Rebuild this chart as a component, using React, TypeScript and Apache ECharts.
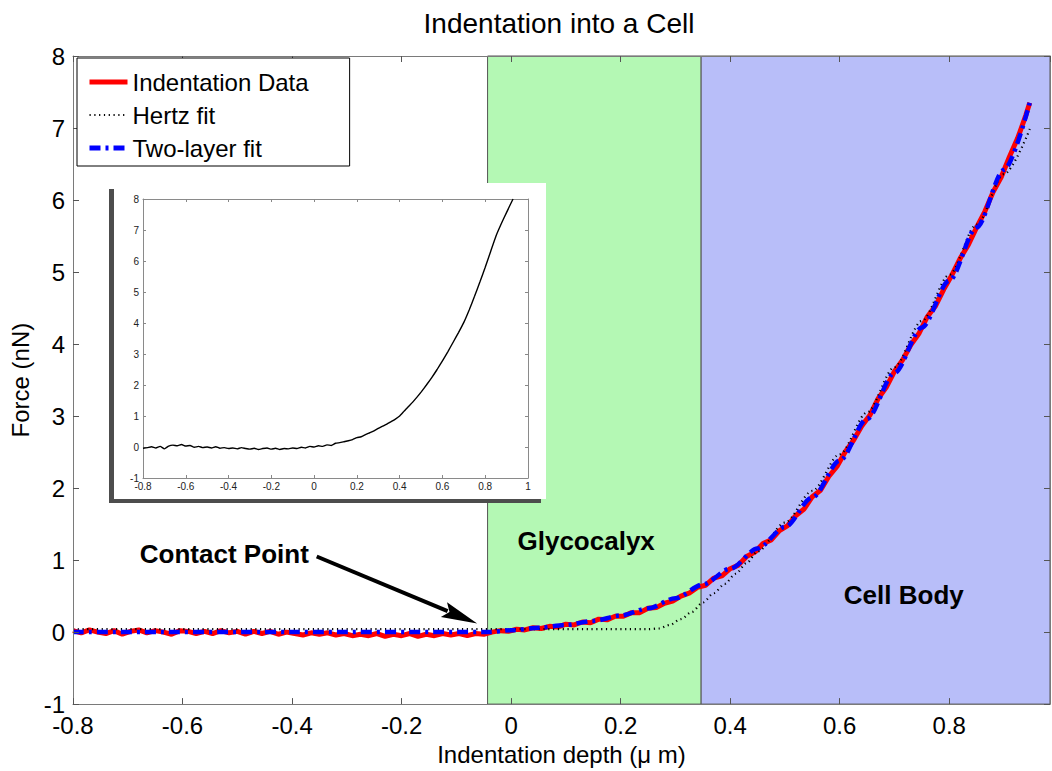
import React, { useEffect, useRef } from "react";
import * as echarts from "echarts";

const FONT = "'Liberation Sans', Arial, Helvetica, sans-serif";

const chartTitle = "Indentation into a Cell";
const xAxisName = "Indentation depth (μ m)";
const yAxisName = "Force (nN)";
const seriesNames = ["Indentation Data", "Hertz fit", "Two-layer fit"];
const regionLabels = ["Glycocalyx", "Cell Body"];
const contactLabel = "Contact Point";

const xMin = -0.8;
const xMax = 0.984;
const yMin = -1;
const yMax = 8;
const glycocalyxRange = [-0.043, 0.347];
const cellBodyRange = [0.347, 0.984];

const insetXMin = -0.8;
const insetXMax = 1;
const insetYMin = -1;
const insetYMax = 8;

// Indentation data [depth (µm), force (nN)]
const indentationData: [number, number][] = [
  [-0.8, 0.02], [-0.785, -0.01], [-0.77, 0.03], [-0.755, 0.0], [-0.74, -0.02], [-0.725, 0.02],
  [-0.71, -0.03], [-0.695, 0.01], [-0.68, 0.03], [-0.665, -0.01], [-0.65, 0.02], [-0.635, 0.0],
  [-0.62, -0.03], [-0.605, 0.02], [-0.59, 0.01], [-0.575, -0.02], [-0.56, 0.01], [-0.545, -0.02],
  [-0.53, 0.02], [-0.515, -0.01], [-0.5, 0.01], [-0.485, -0.03], [-0.47, 0.01], [-0.455, -0.02],
  [-0.44, 0.01], [-0.425, -0.03], [-0.41, 0.0], [-0.395, -0.02], [-0.38, -0.04], [-0.365, -0.01],
  [-0.35, -0.03], [-0.335, -0.01], [-0.32, -0.04], [-0.305, -0.02], [-0.29, -0.05], [-0.275, -0.03],
  [-0.26, -0.05], [-0.245, -0.02], [-0.23, -0.06], [-0.215, -0.03], [-0.2, -0.05], [-0.185, -0.02],
  [-0.17, -0.06], [-0.155, -0.03], [-0.14, -0.05], [-0.125, -0.02], [-0.11, -0.04], [-0.095, -0.02],
  [-0.08, -0.05], [-0.065, -0.02], [-0.05, -0.03], [-0.035, 0.0], [-0.02, 0.02], [-0.005, 0.01],
  [0.01, 0.04], [0.025, 0.03], [0.04, 0.06], [0.055, 0.05], [0.07, 0.08], [0.085, 0.07],
  [0.1, 0.11], [0.115, 0.1], [0.13, 0.14], [0.145, 0.13], [0.16, 0.18], [0.175, 0.17],
  [0.19, 0.22], [0.205, 0.22], [0.22, 0.27], [0.235, 0.27], [0.25, 0.33], [0.265, 0.34],
  [0.28, 0.4], [0.295, 0.43], [0.31, 0.5], [0.325, 0.54], [0.34, 0.62], [0.355, 0.65],
  [0.37, 0.75], [0.385, 0.78], [0.4, 0.88], [0.415, 0.93], [0.43, 1.05], [0.445, 1.11],
  [0.46, 1.23], [0.475, 1.28], [0.49, 1.41], [0.505, 1.48], [0.52, 1.62], [0.535, 1.71],
  [0.55, 1.88], [0.565, 1.97], [0.58, 2.16], [0.595, 2.3], [0.61, 2.5], [0.625, 2.66],
  [0.64, 2.86], [0.655, 3.01], [0.67, 3.24], [0.685, 3.4], [0.7, 3.62], [0.715, 3.78],
  [0.73, 3.99], [0.745, 4.15], [0.76, 4.38], [0.775, 4.53], [0.79, 4.76], [0.805, 4.96],
  [0.82, 5.19], [0.835, 5.38], [0.85, 5.62], [0.865, 5.84], [0.88, 6.11], [0.895, 6.32],
  [0.91, 6.6], [0.925, 6.86], [0.94, 7.18], [0.947, 7.35],
];

const hertzFit: [number, number][] = [
  [-0.8, 0.04], [0.25, 0.04], [0.27, 0.05], [0.29, 0.1], [0.31, 0.18], [0.33, 0.28],
  [0.35, 0.41], [0.37, 0.54], [0.39, 0.67], [0.41, 0.81], [0.43, 0.96], [0.45, 1.12],
  [0.5, 1.52], [0.55, 1.96], [0.6, 2.47], [0.65, 3.05], [0.7, 3.68], [0.75, 4.32],
  [0.8, 4.96], [0.85, 5.66], [0.9, 6.36], [0.949, 7.02],
];

const twoLayerFit: [number, number][] = [
  [-0.8, 0.0], [-0.4, 0.0], [-0.043, 0.0], [0.0, 0.025], [0.05, 0.06], [0.1, 0.1],
  [0.15, 0.155], [0.2, 0.23], [0.25, 0.33], [0.3, 0.47], [0.35, 0.66], [0.4, 0.88],
  [0.45, 1.16], [0.5, 1.46], [0.55, 1.87], [0.6, 2.38], [0.65, 2.96], [0.7, 3.6],
  [0.75, 4.23], [0.8, 4.88], [0.85, 5.62], [0.9, 6.42], [0.947, 7.35],
];

const insetData: [number, number][] = [
  [-0.8, -0.04], [-0.78, -0.02], [-0.76, 0.01], [-0.74, -0.03], [-0.72, 0.02], [-0.7, -0.06],
  [-0.68, 0.03], [-0.66, 0.06], [-0.64, 0.04], [-0.62, 0.08], [-0.6, 0.03], [-0.58, 0.05],
  [-0.56, -0.01], [-0.54, 0.02], [-0.52, -0.02], [-0.5, 0.0], [-0.48, -0.03], [-0.46, 0.01],
  [-0.44, -0.04], [-0.42, -0.02], [-0.4, -0.05], [-0.38, -0.03], [-0.36, -0.06], [-0.34, -0.02],
  [-0.32, -0.05], [-0.3, -0.07], [-0.28, -0.04], [-0.26, -0.08], [-0.24, -0.05], [-0.22, -0.03],
  [-0.2, -0.07], [-0.18, -0.04], [-0.16, -0.08], [-0.14, -0.05], [-0.12, -0.06], [-0.1, -0.03],
  [-0.08, -0.05], [-0.06, -0.01], [-0.04, -0.03], [-0.02, 0.02], [0.0, 0.0], [0.02, 0.04],
  [0.04, 0.02], [0.06, 0.07], [0.08, 0.05], [0.1, 0.12], [0.12, 0.14], [0.14, 0.17],
  [0.16, 0.2], [0.18, 0.24], [0.2, 0.3], [0.22, 0.33], [0.24, 0.4], [0.26, 0.46],
  [0.28, 0.52], [0.3, 0.6], [0.32, 0.67], [0.34, 0.74], [0.36, 0.82], [0.38, 0.9],
  [0.4, 1.0], [0.42, 1.15], [0.44, 1.3], [0.46, 1.44], [0.48, 1.6], [0.5, 1.77],
  [0.525, 2.0], [0.55, 2.24], [0.575, 2.5], [0.6, 2.78], [0.625, 3.07], [0.65, 3.38],
  [0.675, 3.69], [0.7, 4.02], [0.725, 4.42], [0.75, 4.86], [0.775, 5.32], [0.8, 5.8],
  [0.825, 6.3], [0.85, 6.8], [0.875, 7.2], [0.9, 7.57], [0.93, 8.0],
];

// annotation anchors in data coordinates
const contactArrowStart = [-0.355, 1.05];
const contactArrowTip = [-0.062, 0.12];
const contactLabelPos = [-0.678, 1.09];
const glycocalyxLabelPos = [0.137, 1.26];
const cellBodyLabelPos = [0.717, 0.51];

const GRAY = "#7a7a7a";

function mainAxisCommon() {
  return {
    axisLine: { show: true, onZero: false, lineStyle: { color: GRAY, width: 1 } },
    axisTick: { show: true, inside: true, length: 6, lineStyle: { color: "#555", width: 1 } },
    splitLine: { show: false },
    z: 3,
  };
}

function insetAxisCommon() {
  return {
    axisLine: { show: true, onZero: false, lineStyle: { color: "#8a8a8a", width: 1 } },
    axisTick: { show: true, inside: true, length: 3, lineStyle: { color: "#888", width: 1 } },
    splitLine: { show: false },
    z: 10,
  };
}

export default function App() {
  const ref = useRef<HTMLDivElement>(null);
  useEffect(() => {
    const chart = echarts.init(ref.current!, null, { renderer: "svg" });
    const option: any = {
      animation: false,
      backgroundColor: "#fff",
      textStyle: { fontFamily: FONT },
      grid: [
        { left: 73, top: 56, width: 977, height: 650 },
        { left: 143, top: 199, width: 385, height: 279 },
      ],
      legend: {
        data: [
          { name: seriesNames[0], lineStyle: { width: 5 } },
          { name: seriesNames[1], lineStyle: { width: 2 } },
          { name: seriesNames[2], lineStyle: { width: 5 } },
        ],
        orient: "vertical",
        left: 77,
        top: 58,
        backgroundColor: "#fff",
        borderColor: "#000",
        borderWidth: 1,
        padding: [12, 41, 6, 10],
        itemWidth: 38,
        itemHeight: 14,
        itemGap: 9,
        itemStyle: { opacity: 0, borderWidth: 0 },
        textStyle: { fontSize: 24, color: "#000", fontFamily: FONT },
        z: 6,
      },
      xAxis: [
        {
          ...mainAxisCommon(),
          gridIndex: 0, type: "value", position: "bottom",
          min: xMin, max: xMax, interval: 0.2,
          axisLabel: { color: "#000", fontSize: 24, fontFamily: FONT, margin: 9, showMaxLabel: false },
          name: xAxisName, nameLocation: "middle", nameGap: 32,
          nameTextStyle: { color: "#000", fontSize: 24, fontFamily: FONT },
        },
        {
          ...mainAxisCommon(),
          gridIndex: 0, type: "value", position: "top",
          min: xMin, max: xMax, interval: 0.2,
          axisLabel: { show: false },
        },
        {
          ...insetAxisCommon(),
          gridIndex: 1, type: "value", position: "bottom",
          min: insetXMin, max: insetXMax, interval: 0.2,
          axisLabel: { color: "#222", fontSize: 10, fontFamily: FONT, margin: 3 },
        },
        {
          ...insetAxisCommon(),
          gridIndex: 1, type: "value", position: "top",
          min: insetXMin, max: insetXMax, interval: 0.2,
          axisLabel: { show: false },
        },
      ],
      yAxis: [
        {
          ...mainAxisCommon(),
          gridIndex: 0, type: "value", position: "left",
          min: yMin, max: yMax, interval: 1,
          axisLabel: { color: "#000", fontSize: 24, fontFamily: FONT, margin: 8 },
          name: yAxisName, nameLocation: "middle", nameGap: 38,
          nameTextStyle: { color: "#000", fontSize: 24, fontFamily: FONT },
        },
        {
          ...mainAxisCommon(),
          gridIndex: 0, type: "value", position: "right",
          min: yMin, max: yMax, interval: 1,
          axisLabel: { show: false },
        },
        {
          ...insetAxisCommon(),
          gridIndex: 1, type: "value", position: "left",
          min: insetYMin, max: insetYMax, interval: 1,
          axisLabel: { color: "#222", fontSize: 10, fontFamily: FONT, margin: 4 },
        },
        {
          ...insetAxisCommon(),
          gridIndex: 1, type: "value", position: "right",
          min: insetYMin, max: insetYMax, interval: 1,
          axisLabel: { show: false },
        },
      ],
      series: [
        {
          name: "_regions",
          type: "line",
          xAxisIndex: 0,
          yAxisIndex: 0,
          data: [],
          silent: true,
          markArea: {
            silent: true,
            itemStyle: { borderColor: "#555", borderWidth: 1 },
            data: [
              [
                { xAxis: glycocalyxRange[0], itemStyle: { color: "#b4f8b4", borderColor: "#555", borderWidth: 1 } },
                { xAxis: glycocalyxRange[1] },
              ],
              [
                { xAxis: cellBodyRange[0], itemStyle: { color: "#b8bef9", borderColor: "#555", borderWidth: 1 } },
                { xAxis: cellBodyRange[1] },
              ],
            ],
          },
        },
        {
          name: seriesNames[0],
          type: "line",
          xAxisIndex: 0,
          yAxisIndex: 0,
          data: indentationData,
          symbol: "none",
          z: 2,
          color: "#ff0000",
          lineStyle: { color: "#ff0000", width: 5 },
        },
        {
          name: seriesNames[1],
          type: "line",
          xAxisIndex: 0,
          yAxisIndex: 0,
          data: hertzFit,
          symbol: "none",
          smooth: 0.3,
          smoothMonotone: "x",
          z: 2,
          color: "#000",
          lineStyle: { color: "#000", width: 2.2, type: [1.2, 3.6] },
        },
        {
          name: seriesNames[2],
          type: "line",
          xAxisIndex: 0,
          yAxisIndex: 0,
          data: twoLayerFit,
          symbol: "none",
          smooth: 0.3,
          smoothMonotone: "x",
          z: 2,
          color: "#0000ff",
          lineStyle: { color: "#0000ff", width: 4.5, type: [11, 5, 3, 5] },
        },
        {
          name: "_inset",
          type: "line",
          xAxisIndex: 2,
          yAxisIndex: 2,
          data: insetData,
          symbol: "none",
          smooth: 0.15,
          z: 10,
          color: "#000",
          lineStyle: { color: "#000", width: 1.4 },
        },
      ],
    };
    chart.setOption(option);

    const px = (p: number[]) =>
      chart.convertToPixel({ xAxisIndex: 0, yAxisIndex: 0 } as any, p) as unknown as number[];
    const a0 = px(contactArrowStart);
    const a1 = px(contactArrowTip);
    const dx = a1[0] - a0[0];
    const dy = a1[1] - a0[1];
    const len = Math.sqrt(dx * dx + dy * dy);
    const ux = dx / len;
    const uy = dy / len;
    const headLen = 36;
    const headHalf = 8;
    const bx = a1[0] - ux * headLen;
    const by = a1[1] - uy * headLen;
    const cl = px(contactLabelPos);
    const gl = px(glycocalyxLabelPos);
    const cb = px(cellBodyLabelPos);

    const textStyle = (text: string, x: number, y: number, size: number, weight: string, align: string) => ({
      text,
      x,
      y,
      fill: "#000",
      fontSize: size,
      fontWeight: weight,
      fontFamily: FONT,
      align,
      verticalAlign: "middle",
      textAlign: align,
      textVerticalAlign: "middle",
    });

    chart.setOption({
      graphic: [
        { type: "rect", z: 5, silent: true, shape: { x: 109, y: 189, width: 432, height: 314 }, style: { fill: "#4d4d4d" } },
        { type: "rect", z: 5, silent: true, shape: { x: 114, y: 183, width: 432, height: 316 }, style: { fill: "#fff" } },
        { type: "text", z: 20, silent: true, style: textStyle(chartTitle, 559, 23, 28, "normal", "center") },
        { type: "text", z: 20, silent: true, style: textStyle(contactLabel, cl[0], cl[1], 26, "bold", "left") },
        { type: "text", z: 20, silent: true, style: textStyle(regionLabels[0], gl[0], gl[1], 26, "bold", "center") },
        { type: "text", z: 20, silent: true, style: textStyle(regionLabels[1], cb[0], cb[1], 26, "bold", "center") },
        {
          type: "line", z: 20, silent: true,
          shape: { x1: a0[0], y1: a0[1], x2: bx + ux * 4, y2: by + uy * 4 },
          style: { stroke: "#000", lineWidth: 4 },
        },
        {
          type: "polygon", z: 20, silent: true,
          shape: {
            points: [
              [a1[0], a1[1]],
              [bx - uy * headHalf, by + ux * headHalf],
              [bx + ux * 6, by + uy * 6],
              [bx + uy * headHalf, by - ux * headHalf],
            ],
          },
          style: { fill: "#000" },
        },
      ],
    });

    return () => chart.dispose();
  }, []);
  return (
    <div
      ref={ref}
      style={{ position: "absolute", left: 0, top: 0, width: 1052, height: 771, background: "#fff" }}
    />
  );
}
